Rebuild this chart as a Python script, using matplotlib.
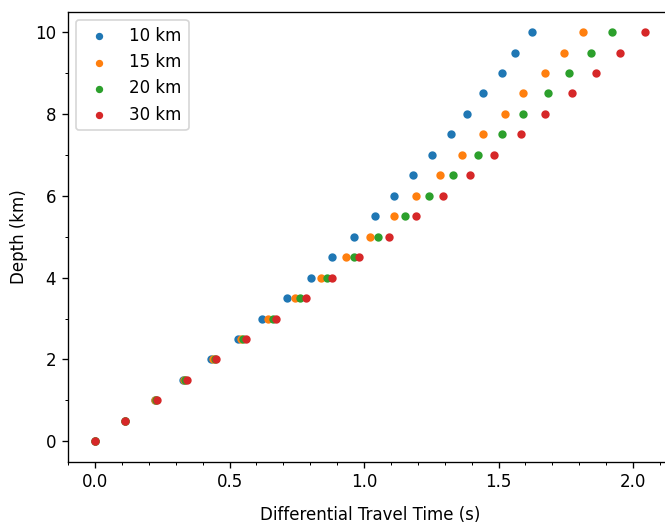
import numpy as np
import matplotlib.pyplot as plt
from matplotlib.ticker import MultipleLocator

# Глибини (км)
depth = np.arange(0, 10.5, 0.5)

# Диференціальний час пробігу (с) для різних відстаней
dt_10 = [0.0, 0.112, 0.221, 0.326, 0.430, 0.532, 0.620, 0.712, 0.801, 0.882, 0.961,
         1.041, 1.112, 1.182, 1.252, 1.322, 1.383, 1.443, 1.513, 1.562, 1.623]
dt_15 = [0.0, 0.112, 0.223, 0.331, 0.440, 0.541, 0.641, 0.742, 0.841, 0.931, 1.022,
         1.112, 1.192, 1.282, 1.363, 1.442, 1.523, 1.592, 1.673, 1.742, 1.813]
dt_20 = [0.0, 0.112, 0.225, 0.335, 0.445, 0.549, 0.660, 0.761, 0.862, 0.961, 1.053,
         1.152, 1.242, 1.332, 1.422, 1.513, 1.592, 1.683, 1.763, 1.843, 1.923]
dt_30 = [0.0, 0.112, 0.231, 0.340, 0.450, 0.561, 0.672, 0.783, 0.882, 0.981, 1.092,
         1.192, 1.292, 1.393, 1.483, 1.582, 1.673, 1.773, 1.863, 1.953, 2.043]

labels = ['10 km', '15 km', '20 km', '30 km']

dpi = 120
fig = plt.figure(figsize=(665 / dpi, 526 / dpi), dpi=dpi)
# права межа осей виходить за край рисунка (як в оригіналі)
ax = fig.add_axes([0.102, 0.122, 0.9085, 0.856])

for dt, lab in zip([dt_10, dt_15, dt_20, dt_30], labels):
    ax.scatter(dt, depth, s=16, label=lab)

ax.set_xlim(-0.1015, 2.145)
ax.set_ylim(-0.5, 10.5)
ax.xaxis.set_major_locator(MultipleLocator(0.5))
ax.xaxis.set_minor_locator(MultipleLocator(0.1))
ax.yaxis.set_minor_locator(MultipleLocator(1))
ax.set_xlabel('Differential Travel Time (s)', labelpad=9)
ax.set_ylabel('Depth (km)')
ax.legend(loc='upper left', markerscale=0.85)

fig.savefig('out.png', dpi=dpi)
